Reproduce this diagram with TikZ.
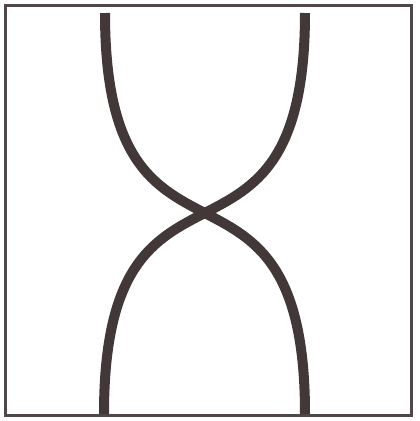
\documentclass[tikz,border=0pt]{standalone}
\usetikzlibrary{calc}
\definecolor{strandgray}{RGB}{66,56,56}
\definecolor{framegray}{RGB}{80,72,72}

\tikzset{
  strand/.style={line width=10pt, strandgray},
  framebox/.style={line width=3pt, framegray}
}

\begin{document}
\begin{tikzpicture}[x=1pt, y=-1pt]
    \useasboundingbox (0,0) rectangle (420,421);

    %% Frame
    \draw[framebox] (5,5) rectangle (411,415);

    %% Strand end points
    \coordinate (topleft) at (105,13);
    \coordinate (topright) at (305,13);
    \coordinate (botleft) at (104,414);
    \coordinate (botright) at (305,414);

    %% Under strand: top right to bottom left
    \draw[strand] (topright) .. controls (305,310) and (104,116) .. (botleft);

    %% Over strand: top left to bottom right
    \draw[strand] (topleft) .. controls (105,310) and (305,116) .. (botright);
\end{tikzpicture}
\end{document}
